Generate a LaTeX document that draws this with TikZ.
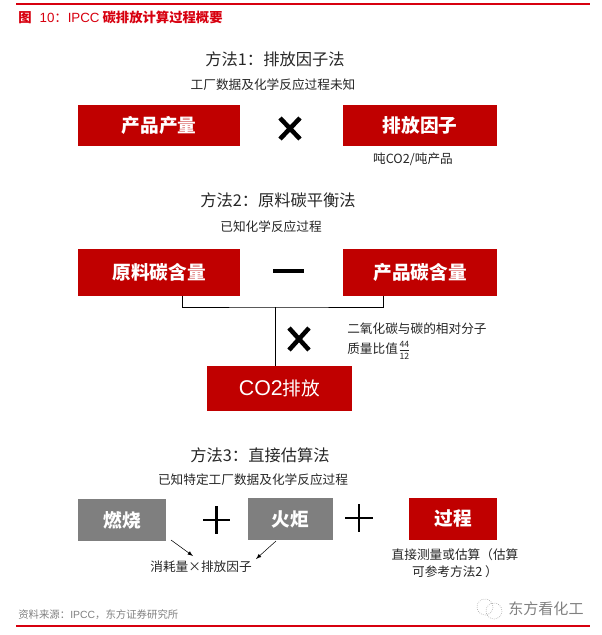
\documentclass[tikz,border=0pt]{standalone}
\usepackage{amsmath}
\usepackage{fontspec}
\setmainfont{Noto Sans CJK SC}
\newfontfamily\latinfont{Liberation Sans}
\definecolor{boxred}{HTML}{C00000}
\definecolor{rulered}{HTML}{D7000F}
\definecolor{boxgray}{HTML}{7F7F7F}
\definecolor{textdark}{HTML}{262626}
\newcommand{\fracnum}[1]{\mbox{\fontsize{6.5}{6.5}\selectfont #1}}
\tikzset{
  redbox/.style={fill=boxred,text=white,font=\bfseries\fontsize{14}{16}\selectfont,inner sep=0pt},
  graybox/.style={fill=boxgray,text=white,font=\bfseries\fontsize{14}{16}\selectfont,inner sep=0pt},
  methodtitle/.style={text=textdark,font=\fontsize{12.2}{14}\selectfont,inner sep=0pt},
  note/.style={text=textdark,font=\fontsize{9.5}{12.5}\selectfont,inner sep=0pt},
  opmark/.style={line width=3.4pt,black},
  minusmark/.style={line width=3pt,black},
  thinop/.style={line width=2pt,black},
  redrule/.style={rulered,line width=1pt},
}
\begin{document}
\begin{tikzpicture}[x=0.75pt,y=-0.75pt]
  \useasboundingbox (0,0) rectangle (602,635);

  \draw[redrule] (16,4) -- (590,4);
  \node[anchor=west,text=rulered,inner sep=0pt,font=\fontsize{10}{12}\selectfont] (header) at (18,17) {\textbf{图}\hspace{6pt}{\latinfont 10}：{\latinfont IPCC} \textbf{碳排放计算过程概要}};

  \node[methodtitle] (titleA) at (275,59) {方法1：排放因子法};
  \node[note] (subA) at (273,85) {工厂数据及化学反应过程未知};
  \node[redbox,minimum width=121.5pt,minimum height=30.75pt] (prodA) at (159,125.5) {产品产量};
  \node[redbox,minimum width=115.5pt,minimum height=30.75pt] (factorA) at (420,125.5) {排放因子};
  \node[note] (unitA) at (413,159) {吨CO2/吨产品};
  \draw[opmark] (280,118) -- (300,139) (300,118) -- (280,139);

  \node[methodtitle] (titleB) at (278,200) {方法2：原料碳平衡法};
  \node[note] (subB) at (271,227) {已知化学反应过程};
  \node[redbox,minimum width=121.5pt,minimum height=35.25pt] (rawB) at (159,272.5) {原料碳含量};
  \node[redbox,minimum width=115.5pt,minimum height=35.25pt] (prodB) at (420,272.5) {产品碳含量};
  \node[redbox,minimum width=108.75pt,minimum height=33.75pt,font=\fontsize{14}{16}\selectfont] (co2B) at (279.5,388.5) {{\latinfont\fontsize{16}{16}\selectfont CO2}排放};
  \draw[minusmark] (273,271) -- (304,271);

  \coordinate (joinL) at (182,296);
  \coordinate (joinR) at (383,296);
  \coordinate (joinM) at (275,307);
  \coordinate (joinE) at (275,366);
  \draw[black,line width=0.75pt] (joinL) |- (joinM) -| (joinR);
  \draw[black,line width=0.75pt] (joinM) -- (joinE);
  \draw[opmark] (289,328) -- (309,350) (309,328) -- (289,350);
  \node[note,anchor=north west,align=left] (ratioB) at (347,323) {二氧化碳与碳的相对分子\\[2pt]质量比值$\frac{\fracnum{44}\rule[-1.5pt]{0pt}{1pt}}{\rule{0pt}{6.5pt}\fracnum{12}}$};

  \node[methodtitle] (titleC) at (260,455) {方法3：直接估算法};
  \node[note] (subC) at (253,480) {已知特定工厂数据及化学反应过程};
  \node[graybox,minimum width=66pt,minimum height=31.5pt] (burnC) at (122,520) {燃烧};
  \node[graybox,minimum width=63.75pt,minimum height=31.5pt] (flareC) at (290.5,519) {火炬};
  \node[redbox,minimum width=66pt,minimum height=31.5pt] (procC) at (453,519) {过程};
  \draw[thinop] (203,520) -- (230,520) (216.5,506) -- (216.5,534);
  \draw[thinop] (345,518) -- (373,518) (359,504) -- (359,532);

  \node[note] (consC) at (201,567) {消耗量×排放因子};
  \coordinate (burnT) at (171,540);
  \coordinate (burnH) at (193,556);
  \coordinate (flareT) at (276,541);
  \coordinate (flareH) at (256,559);
  \draw[-latex,black,line width=0.4pt] (burnT) -- (burnH);
  \draw[-latex,black,line width=0.4pt] (flareT) -- (flareH);
  \node[note,align=center] (procNote) at (455,563) {直接测量或估算（估算\\可参考方法2\hspace{2pt}）};

  \node[anchor=west,inner sep=0pt,text=gray,font=\fontsize{7.8}{10}\selectfont] (source) at (18,615) {资料来源：{\latinfont IPCC}，东方证券研究所};
  \draw[redrule] (16,626) -- (590,626);

  \draw[gray!70,densely dotted,line width=0.5pt] (485,607) circle (8) (494,611) circle (8);
  \node[anchor=west,inner sep=0pt,text=gray,font=\fontsize{11.3}{14}\selectfont] (wechat) at (508,609) {东方看化工};
\end{tikzpicture}
\end{document}
